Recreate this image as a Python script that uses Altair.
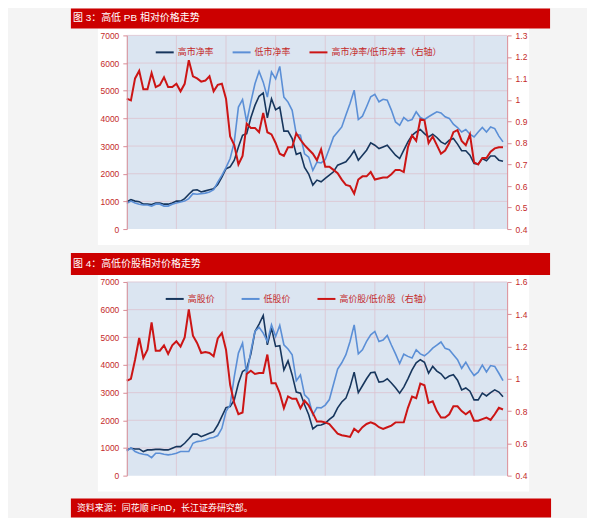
import json
import altair as alt
import pandas as pd

# ---------------- data ----------------
TICK_LABELS = ["05-01", "06-01", "07-01", "08-01", "09-01", "10-01", "11-01", "12-01"]
TICK_POS = [0, 12, 24, 36, 48, 60, 72, 84]
X_END = 92  # months since 2005-01

pb_high = [990, 1060, 1010, 990, 900, 900, 890, 940, 940, 900, 900, 940, 1010, 1010, 1100, 1260, 1400, 1420,
           1340, 1380, 1420, 1460, 1610, 1880, 2180, 2250, 2490, 2970, 3390, 3450, 4020, 4470, 4800, 4920,
           4020, 4710, 4310, 4410, 3540, 3540, 3270, 2700, 2760, 2230, 1990, 1590, 1770,
           1710, 1830, 1950, 2070, 2310, 2370, 2430, 2610, 2830, 2490, 2670, 2850, 3120, 3030, 2910, 2970,
           3030, 2850, 2670, 2550, 2850, 3150, 3390, 3510, 3600, 3450, 3330, 3430, 3310, 3150, 3070, 3210,
           3270, 3070, 2830, 2830, 2670, 2370, 2350, 2550, 2470, 2640, 2640, 2490, 2450]
pb_low = [930, 1010, 940, 900, 870, 870, 830, 900, 900, 830, 830, 900, 940, 980, 1010, 1100, 1280, 1260,
          1280, 1300, 1340, 1420, 1700, 1940, 2220, 2550, 3150, 4410, 4680, 3870, 4590, 5250, 5700, 5310,
          4770, 5680, 5430, 5880, 4770, 4590, 4290, 3420, 3390, 2720, 2600, 2120, 2420,
          2390, 2510, 2910, 3330, 3510, 3690, 4120, 4540, 5020, 3960, 4080, 4420, 4780, 4870, 4600, 4690,
          4660, 4300, 3870, 3750, 4030, 3910, 3960, 4240, 4030, 3960, 4060, 4150, 4240, 4200, 4060, 4000,
          3790, 3670, 3510, 3600, 3430, 3330, 3510, 3670, 3510, 3690, 3630, 3360, 3150]
pb_ratio = [1.006, 0.998, 1.10, 1.135, 1.05, 1.05, 1.125, 1.06, 1.07, 1.105, 1.06, 1.06, 1.075, 1.04, 1.075,
            1.185, 1.11, 1.10, 1.085, 1.09, 1.11, 1.04, 1.07, 1.075, 1.006, 0.83, 0.79, 0.70, 0.74, 0.89,
            0.87, 0.87, 0.85, 0.94, 0.85, 0.84, 0.80, 0.75, 0.74, 0.78, 0.78, 0.845, 0.815, 0.79, 0.77,
            0.75, 0.72,
            0.77, 0.69, 0.69, 0.675, 0.66, 0.63, 0.605, 0.60, 0.565, 0.63, 0.645, 0.645, 0.665, 0.63, 0.635,
            0.64, 0.64, 0.655, 0.675, 0.675, 0.665, 0.78, 0.835, 0.81, 0.91, 0.905, 0.80, 0.83, 0.79, 0.75,
            0.765, 0.80, 0.85, 0.86, 0.81, 0.79, 0.84, 0.71, 0.70, 0.73, 0.73, 0.76, 0.775, 0.78, 0.78]

px_high = [930, 990, 965, 965, 870, 930, 930, 950, 950, 930, 930, 990, 1050, 1050, 1170, 1330, 1500, 1500,
           1410, 1470, 1530, 1590, 1830, 2140, 2460, 2500, 2740, 3340, 3760, 3860, 4390, 5210, 5480, 5790,
           4730, 5330, 4670, 4700, 3820, 4150, 3640, 3020, 2980, 2560, 2200, 1690, 1810,
           1830, 1890, 2030, 2150, 2450, 2660, 2800, 3200, 3740, 3000, 3250, 3500, 3720, 3740, 3380, 3400,
           3500, 3350, 3180, 2980, 3200, 3500, 3820, 4080, 4190, 4100, 3700, 3950, 3780, 3680, 3500, 3600,
           3650, 3450, 3100, 3170, 3050, 2740, 2740, 2980, 2880, 3000, 3100, 3020, 2850]
px_low = [890, 1010, 870, 810, 770, 750, 650, 810, 810, 770, 750, 770, 810, 870, 870, 870, 1170, 1230,
          1250, 1290, 1350, 1380, 1450, 1710, 2320, 2560, 3580, 4430, 4790, 3640, 4490, 5210, 5360, 5150,
          4850, 5450, 5030, 5430, 4730, 4580, 4370, 3430, 3640, 2920, 2770, 2200, 2460,
          2450, 2550, 2750, 3300, 3850, 4080, 4370, 4850, 5450, 4400, 4550, 4850, 5090, 5210, 4850, 4900,
          5070, 4720, 4400, 4050, 4390, 4310, 4250, 4550, 4400, 4330, 4450, 4610, 4720, 4830, 4600, 4550,
          4370, 4190, 3880, 4100, 3830, 3620, 3740, 4000, 3750, 3980, 3950, 3700, 3430]
px_ratio = [0.988, 1.0, 1.118, 1.253, 1.129, 1.18, 1.35, 1.174, 1.174, 1.207, 1.154, 1.207, 1.232, 1.2,
            1.256, 1.43, 1.267, 1.222, 1.16, 1.166, 1.16, 1.14, 1.25, 1.284, 1.18, 0.963, 0.849, 0.781,
            0.791, 1.03, 1.05, 1.03, 1.036, 1.036, 1.15, 0.973, 0.973, 0.911, 0.818, 0.891, 0.876, 0.876,
            0.818, 0.864, 0.835, 0.787, 0.735,
            0.735, 0.73, 0.72, 0.69, 0.66, 0.65, 0.645, 0.64, 0.69, 0.67, 0.70, 0.72, 0.73, 0.72, 0.70,
            0.69, 0.70, 0.71, 0.73, 0.73, 0.73, 0.82, 0.89, 0.88, 0.97, 0.96, 0.85, 0.86, 0.80, 0.76, 0.76,
            0.78, 0.83, 0.83, 0.80, 0.78, 0.80, 0.74, 0.74, 0.75, 0.76, 0.745, 0.78, 0.82, 0.81]

LEFT_TICKS = [0, 1000, 2000, 3000, 4000, 5000, 6000, 7000]
PB_RIGHT_TICKS = [0.4, 0.5, 0.6, 0.7, 0.8, 0.9, 1.0, 1.1, 1.2, 1.3]
PX_RIGHT_TICKS = [0.4, 0.6, 0.8, 1.0, 1.2, 1.4, 1.6]

# ---------------- style ----------------
W, H = 381, 194
FONT = "Liberation Sans, Noto Sans CJK SC, sans-serif"
BAR_RED = "#cc0000"
NAVY = "#17365d"
LIGHT = "#5b8fd6"
LINE_RED = "#cc1515"
PLOT_BG = "#dbe5f1"
GRID = "#dcc3cf"
AXIS_RED = "#d98c96"
TEXT_RED = "#c42a2a"

one = pd.DataFrame({"k": [0]})
x_scale = alt.Scale(domain=[0, X_END], nice=False, zero=False)
label_expr = json.dumps(TICK_LABELS) + "[round(datum.value / 12)]"


def axis(**kw):
    return alt.Axis(labelColor=TEXT_RED, tickSize=4, labelFontSize=8.5, labelFont=FONT,
                    domainColor=AXIS_RED, tickColor=AXIS_RED, grid=False, zindex=2, **kw)


def panel(title, names, high, low, ratio, r_ticks, leg_x, col_pad, bar_top, footer=None):
    months = list(range(len(high)))
    df_left = pd.DataFrame({
        "m": months + months,
        "v": high + low,
        "s": [names[0]] * len(high) + [names[1]] * len(low),
    })
    df_right = pd.DataFrame({"m": months, "v": ratio, "s": [names[2]] * len(ratio)})

    color = alt.Color("s:N", scale=alt.Scale(domain=names, range=[NAVY, LIGHT, LINE_RED]),
                      legend=alt.Legend(title=None, orient="none", legendX=leg_x, legendY=7,
                                        direction="horizontal", symbolType="stroke", symbolSize=324,
                                        symbolStrokeWidth=2, labelFontSize=9, labelColor=TEXT_RED,
                                        labelFont=FONT, labelOffset=3, columnPadding=col_pad,
                                        labelLimit=300, padding=0, zindex=3))
    x_enc = alt.X("m:Q", scale=x_scale, title=None,
                  axis=axis(values=TICK_POS, labelExpr=label_expr, labelPadding=2))

    white = alt.Chart(one).mark_rect(color="white").encode(
        x=alt.value(-29), x2=alt.value(W + 22), y=alt.value(-7), y2=alt.value(H + 16))
    blue = alt.Chart(one).mark_rect(color=PLOT_BG).encode(
        x=alt.value(0), x2=alt.value(W), y=alt.value(0), y2=alt.value(H))
    vgrid = alt.Chart(pd.DataFrame({"g": TICK_POS[1:]})).mark_rule(color=GRID, strokeWidth=0.8).encode(
        x=alt.X("g:Q", scale=x_scale, axis=None))
    hgrid = alt.Chart(pd.DataFrame({"g": LEFT_TICKS[1:]})).mark_rule(color=GRID, strokeWidth=0.8).encode(
        y=alt.Y("g:Q", scale=alt.Scale(domain=[0, 7000], nice=False), axis=None))
    left = alt.Chart(df_left).mark_line(strokeWidth=1.6).encode(
        x=x_enc,
        y=alt.Y("v:Q", scale=alt.Scale(domain=[0, 7000], nice=False), title=None,
                axis=axis(orient="left", values=LEFT_TICKS, format="d", labelPadding=4)),
        color=color)
    right = alt.Chart(df_right).mark_line(strokeWidth=2).encode(
        x=x_enc,
        y=alt.Y("v:Q", scale=alt.Scale(domain=[r_ticks[0], r_ticks[-1]], nice=False, zero=False), title=None,
                axis=axis(orient="right", values=r_ticks, format=".1~f", labelPadding=4)),
        color=color)
    bar = alt.Chart(one).mark_rect(color=BAR_RED).encode(
        x=alt.value(-56), x2=alt.value(W + 43), y=alt.value(bar_top), y2=alt.value(-7))
    ttl = alt.Chart(one).mark_text(align="left", baseline="middle", color="white", fontSize=10,
                                   font=FONT).encode(
        x=alt.value(-54), y=alt.value((bar_top - 7) / 2), text=alt.value(title))
    layers = [white, blue, vgrid, hgrid, left, right, bar, ttl]
    if footer:
        fbar = alt.Chart(one).mark_rect(color=BAR_RED).encode(
            x=alt.value(-56), x2=alt.value(W + 44), y=alt.value(H + 23), y2=alt.value(H + 42))
        ftxt = alt.Chart(one).mark_text(align="left", baseline="middle", color="white", fontSize=9,
                                        font=FONT).encode(
            x=alt.value(-50), y=alt.value(H + 32.5), text=alt.value(footer))
        layers += [fbar, ftxt]
    return alt.layer(*layers).resolve_scale(y="independent").properties(width=W, height=H)


p1 = panel("图 3：高低 PB 相对价格走势", ["高市净率", "低市净率", "高市净率/低市净率（右轴）"],
           pb_high, pb_low, pb_ratio, PB_RIGHT_TICKS, 28, 14, -27)
p2 = panel("图 4：高低价股相对价格走势", ["高股价", "低股价", "高价股/低价股（右轴）"],
           px_high, px_low, px_ratio, PX_RIGHT_TICKS, 38, 22, -29,
           footer="资料来源：同花顺 iFinD，长江证券研究部。")

chart = alt.vconcat(p1, p2, spacing=8).resolve_scale(color="independent").configure(
    background="#f4f4f4", font=FONT,
    padding={"left": 63, "top": 0, "right": 36, "bottom": 0},
).configure_view(stroke=None)

chart.save("out.html", embed_options={"renderer": "svg", "actions": False})
